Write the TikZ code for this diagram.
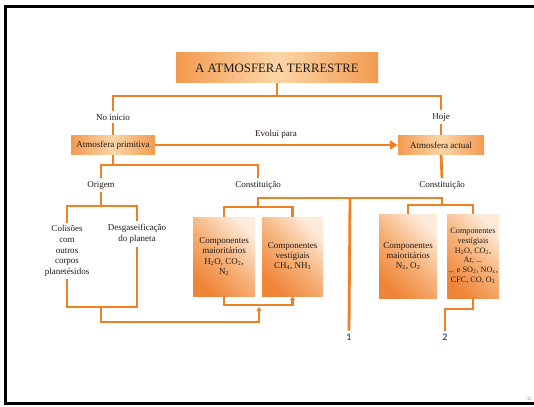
\documentclass[tikz,border=0pt]{standalone}
\usepackage{fontspec}
\setmainfont{Liberation Serif}
\newfontfamily\numfont{Carlito}
\usetikzlibrary{arrows.meta}
\definecolor{lineor}{HTML}{F08024}
\definecolor{boxdark}{HTML}{F0853A}
\definecolor{boxmid}{HTML}{F6B27A}
\definecolor{boxlight}{HTML}{FDEBDB}
\definecolor{bandor}{HTML}{F39A50}
\definecolor{bandlt}{HTML}{FBD6A8}
\definecolor{ink}{HTML}{221A16}
\definecolor{numblue}{HTML}{3A5F96}
\begin{document}
\begin{tikzpicture}[x=1pt,y=-1pt,
  conn/.style={draw=lineor,line width=2.8pt},
  lbl/.style={text=ink,font=\fontsize{9}{10.6}\selectfont,align=center,inner sep=3pt},
  band/.style={left color=bandor,right color=bandor,middle color=bandlt,text=ink,inner sep=0pt,align=center},
  compbox/.style={top color=boxdark,bottom color=boxlight,middle color=boxmid,shading angle=135,text=ink,inner sep=1pt,align=center,font=\fontsize{9}{10.2}\selectfont},
  bigtip/.style={-{Triangle[length=8pt,width=9pt]}},
  smalltip/.style={-{Triangle[length=4pt,width=5pt]}},
  numlbl/.style={text=numblue,font=\numfont\bfseries\fontsize{10}{12}\selectfont,inner sep=3pt}
]
\useasboundingbox (0,0) rectangle (534,406);
\fill[white] (0,0) rectangle (534,406);
% slide frame
\draw[black,line width=3.5pt] (534,6.5) -- (5.5,6.5) -- (5.5,403.5) -- (534,403.5);
\node[text=black!45,font=\fontsize{5}{6}\selectfont,inner sep=0pt] (pg) at (529,399) {32};

% title
\node[band,minimum width=202pt,minimum height=30pt,font=\fontsize{12.8}{14}\selectfont] (title) at (277,68) {A ATMOSFERA TERRESTRE};

% first level
\node[lbl] (noini) at (113,117) {No início};
\node[lbl] (hoje) at (441,117) {Hoje};
\node[band,minimum width=84pt,minimum height=19pt,font=\fontsize{9}{10}\selectfont] (prim) at (113,145) {Atmosfera primitiva};
\node[band,minimum width=86pt,minimum height=19pt,font=\fontsize{9}{10}\selectfont] (act) at (441,145) {Atmosfera actual};
\node[lbl] (evol) at (276,134) {Evolui para};

% second level
\node[lbl] (orig) at (101,185) {Origem};
\node[lbl] (constL) at (258,185) {Constituição};
\node[lbl] (constR) at (442,185) {Constituição};

% origin of the primitive atmosphere
\node[lbl] (colis) at (67,251) {Colisões\\com\\outros\\corpos\\planetésidos};
\node[lbl] (desg) at (137,234) {Desgaseificação\\do planeta};

% components
\node[compbox,minimum width=62pt,minimum height=79pt] (b1) at (224,256.5) {Componentes\\maioritários\\H\textsubscript{2}O, CO\textsubscript{2},\\N\textsubscript{2}};
\node[compbox,minimum width=61pt,minimum height=79pt] (b2) at (292.5,256.5) {Componentes\\vestígiais\\CH\textsubscript{4}, NH\textsubscript{3}};
\node[compbox,minimum width=58pt,minimum height=84pt] (b3) at (408,256) {Componentes\\maioritários\\N\textsubscript{2}, O\textsubscript{2}};
\node[compbox,minimum width=52pt,minimum height=84pt,font=\fontsize{8.2}{9.8}\selectfont] (b4) at (473,256) {Componentes\\vestígiais\\H\textsubscript{2}O, CO\textsubscript{2},\\Ar, ...\\... e SO\textsubscript{2}, NO\textsubscript{x},\\CFC, CO, O\textsubscript{3}};

\node[numlbl] (n1) at (349,337) {1};
\node[numlbl] (n2) at (445,337) {2};

% junctions
\coordinate (jT) at (277,96);
\coordinate (jP) at (113,165);
\coordinate (jO) at (101,206);
\coordinate (jB) at (101,307);
\coordinate (jD) at (101,322);
\coordinate (tipA) at (259,307);
\coordinate (jE) at (259,305);
\coordinate (jH) at (258,207);
\coordinate (jF) at (258,198);
\coordinate (j1) at (350,198);
\coordinate (jG) at (442,198);
\coordinate (jI) at (442,205);
\coordinate (j2) at (460,309);

% connectors
\draw[conn] (title.south) -- (jT);
\draw[conn] (noini.north) |- (jT) -| (hoje.north);
\draw[conn] (noini.south) -- (prim.north);
\draw[conn] (hoje.south) -- (act.north);
\draw[conn,bigtip] (prim.east) -- (act.west);

\draw[conn] (prim.south) -- (jP);
\draw[conn] (orig.north) |- (jP) -| (constL.north);
\draw[conn] (act.south) -- (constR.north);

\draw[conn] (orig.south) -- (jO);
\draw[conn] (colis.north) |- (jO) -| (desg.north);
\draw[conn] (colis.south) |- (jB) -| (desg.south);
\draw[conn,smalltip] (jB) -- (jD) -| (tipA);

\draw[conn] (jH) -- (jF) -- (jG) -- (jI);
\draw[conn] (b1.north) |- (jH) -| (b2.north);
\draw[conn] (b3.north) |- (jI) -| (b4.north);
\draw[conn,smalltip] (b1.south) |- (jE) -| (b2.south);

\draw[conn] (j1) -- (n1.north);
\draw[conn] (b4.south) |- (j2) -| (n2.north);
\end{tikzpicture}
\end{document}
